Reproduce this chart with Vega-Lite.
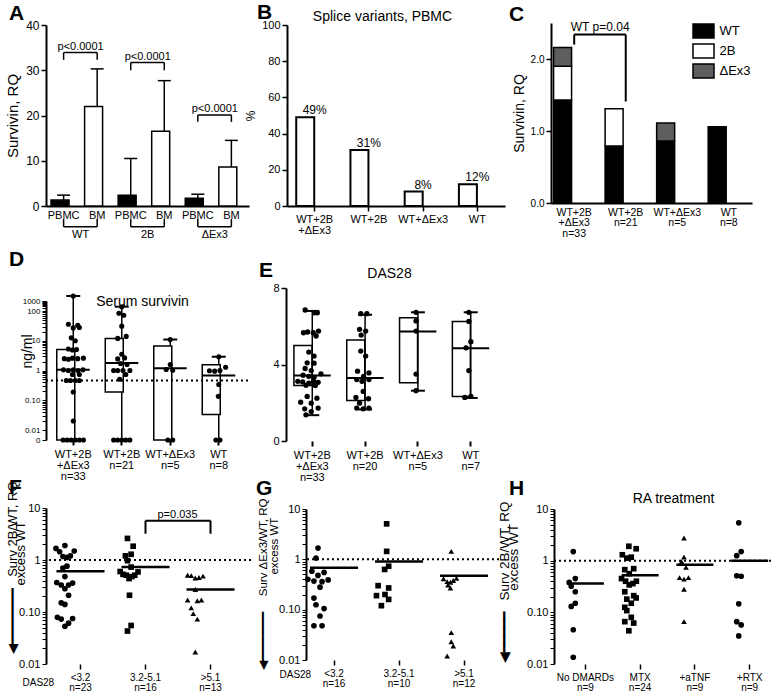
{
"$schema":"https://vega.github.io/schema/vega-lite/v6.json",
"background":"white",
"padding":{"left":5,"top":1,"right":0,"bottom":0},
"config":{
 "font":"Liberation Sans",
 "view":{"stroke":null},
 "axis":{"domainColor":"black","domainWidth":2,"tickColor":"black","tickWidth":1.5,"tickSize":5,"labelColor":"black","titleColor":"black","grid":false,"labelFontSize":11,"titleFontSize":13,"titleFontWeight":"normal","labelPadding":2,"labelLineHeight":11,"labelAngle":0},
 "title":{"fontSize":21,"fontWeight":"bold","anchor":"start","frame":"group","color":"black"},
 "legend":{"labelColor":"black"},
 "tick":{"opacity":1}
},
"resolve":{"scale":{"fill":"independent"},"legend":{"fill":"independent"}},
"datasets":{
 "A_bars":[{"k":"WP","t":"PBMC","m":1.3,"hi":2.4},{"k":"WB","t":"BM","m":22,"hi":30.3},{"k":"2P","t":"PBMC","m":2.4,"hi":10.5},{"k":"2B","t":"BM","m":16.5,"hi":27.7},{"k":"EP","t":"PBMC","m":1.7,"hi":2.6},{"k":"EB","t":"BM","m":8.6,"hi":14.5}],
 "A_p":[{"a":"WP","b":"WB","top":33.9,"end":32.3,"lab":"p<0.0001"},{"a":"2P","b":"2B","top":31.7,"end":30,"lab":"p<0.0001"},{"a":"EP","b":"EB","top":20.1,"end":18.6,"lab":"p<0.0001"}],
 "A_g":[{"a":"WP","b":"WB","g":"WT"},{"a":"2P","b":"2B","g":"2B"},{"a":"EP","b":"EB","g":"\u0394Ex3"}],
 "B":[{"k":"a","p":49,"lab":"49%"},{"k":"b","p":31,"lab":"31%"},{"k":"c","p":8,"lab":"8%"},{"k":"d","p":12,"lab":"12%"}],
 "C":[{"k":"a","s":"WT","o":1,"v":1.43},{"k":"a","s":"2B","o":2,"v":0.47},{"k":"a","s":"\u0394Ex3","o":3,"v":0.26},{"k":"b","s":"WT","o":1,"v":0.79},{"k":"b","s":"2B","o":2,"v":0.52},{"k":"c","s":"WT","o":1,"v":0.86},{"k":"c","s":"\u0394Ex3","o":3,"v":0.25},{"k":"d","s":"WT","o":1,"v":1.06}],
 "C_br":[{"a":"a","b":"b","top":2.34,"e1":2.2,"e2":1.41,"lab":"WT p=0.04"}],
 "D_box":[{"g":"a","lo":0.005,"q1":0.005,"med":1.05,"q3":5.1,"hi":3160},{"g":"b","lo":0.005,"q1":0.19,"med":1.8,"q3":12,"hi":270},{"g":"c","lo":0.005,"q1":0.005,"med":1.2,"q3":6.6,"hi":11},{"g":"d","lo":0.005,"q1":0.033,"med":0.68,"q3":1.55,"hi":2.9}],
 "D_pts":[
{"g":"a","v":3160,"j":0},{"g":"a","v":36,"j":-1.2},{"g":"a","v":33,"j":1.1},{"g":"a","v":27,"j":0},{"g":"a","v":28,"j":1.5},{"g":"a","v":12.5,"j":-0.5},{"g":"a","v":10,"j":0.5},{"g":"a","v":5.3,"j":-1.2},{"g":"a","v":5.1,"j":0.8},{"g":"a","v":4.9,"j":-0.2},{"g":"a","v":2.5,"j":-2.2},{"g":"a","v":2.4,"j":-1.2},{"g":"a","v":2.6,"j":-0.2},{"g":"a","v":2.5,"j":1.1},{"g":"a","v":2.6,"j":2.5},{"g":"a","v":1.05,"j":-2.4},{"g":"a","v":1.0,"j":-1.2},{"g":"a","v":1.05,"j":0},{"g":"a","v":1.0,"j":1.2},{"g":"a","v":1.05,"j":2.4},{"g":"a","v":0.73,"j":-0.2},{"g":"a","v":0.73,"j":1.5},{"g":"a","v":0.46,"j":-1.7},{"g":"a","v":0.46,"j":-0.7},{"g":"a","v":0.46,"j":0.5},{"g":"a","v":0.46,"j":1.5},{"g":"a","v":0.19,"j":0},{"g":"a","v":0.02,"j":0},{"g":"a","v":0.005,"j":-2.5},{"g":"a","v":0.005,"j":-1.5},{"g":"a","v":0.005,"j":-0.5},{"g":"a","v":0.005,"j":0.5},{"g":"a","v":0.005,"j":1.5},{"g":"a","v":0.005,"j":2.5},
{"g":"b","v":270,"j":0},{"g":"b","v":84,"j":-0.7},{"g":"b","v":72,"j":0.5},{"g":"b","v":31,"j":0},{"g":"b","v":12,"j":-1},{"g":"b","v":14,"j":1.1},{"g":"b","v":3.5,"j":0},{"g":"b","v":2.65,"j":0.7},{"g":"b","v":2.45,"j":-1},{"g":"b","v":1.72,"j":-0.3},{"g":"b","v":1.59,"j":1.3},{"g":"b","v":1.0,"j":-2},{"g":"b","v":1.0,"j":-1},{"g":"b","v":1.0,"j":0.3},{"g":"b","v":1.0,"j":2},{"g":"b","v":0.73,"j":1},{"g":"b","v":0.51,"j":-0.5},{"g":"b","v":0.005,"j":-2},{"g":"b","v":0.005,"j":-1},{"g":"b","v":0.005,"j":0},{"g":"b","v":0.005,"j":1},{"g":"b","v":0.005,"j":2},
{"g":"c","v":11,"j":0},{"g":"c","v":1.59,"j":0},{"g":"c","v":1.08,"j":-1},{"g":"c","v":1.02,"j":0.6},{"g":"c","v":0.005,"j":-0.6},{"g":"c","v":0.005,"j":0.6},
{"g":"d","v":2.9,"j":0},{"g":"d","v":1.29,"j":1.7},{"g":"d","v":0.98,"j":-2.3},{"g":"d","v":0.95,"j":-1},{"g":"d","v":1.0,"j":0.3},{"g":"d","v":0.34,"j":0},{"g":"d","v":0.135,"j":-0.1},{"g":"d","v":0.005,"j":-0.7},{"g":"d","v":0.005,"j":0.3}],
 "E_box":[{"g":"a","lo":1.35,"q1":2.9,"med":3.43,"q3":5.0,"hi":6.8},{"g":"b","lo":1.65,"q1":2.12,"med":3.3,"q3":5.28,"hi":6.6},{"g":"c","lo":2.63,"q1":3.05,"med":5.72,"q3":6.45,"hi":6.73},{"g":"d","lo":2.25,"q1":2.33,"med":4.85,"q3":6.25,"hi":6.73}],
 "E_pts":[
{"g":"a","v":6.85,"j":-1.3},{"g":"a","v":6.7,"j":1.0},{"g":"a","v":6.7,"j":1.7},{"g":"a","v":5.66,"j":-1.7},{"g":"a","v":5.7,"j":-0.7},{"g":"a","v":5.66,"j":0.7},{"g":"a","v":5.75,"j":2.0},{"g":"a","v":5.49,"j":1.4},{"g":"a","v":4.65,"j":-0.4},{"g":"a","v":4.44,"j":0.9},{"g":"a","v":4.09,"j":-0.8},{"g":"a","v":4.07,"j":0.9},{"g":"a","v":3.79,"j":-1.3},{"g":"a","v":3.68,"j":0.2},{"g":"a","v":3.44,"j":-1.8},{"g":"a","v":3.38,"j":-0.4},{"g":"a","v":3.33,"j":0.9},{"g":"a","v":3.51,"j":2.6},{"g":"a","v":3.12,"j":-3.1},{"g":"a","v":3.09,"j":-1.9},{"g":"a","v":3.03,"j":-0.4},{"g":"a","v":3.12,"j":0.8},{"g":"a","v":3.07,"j":1.9},{"g":"a","v":2.91,"j":-1.1},{"g":"a","v":2.9,"j":1.2},{"g":"a","v":2.33,"j":-0.8},{"g":"a","v":2.24,"j":1.6},{"g":"a","v":2.03,"j":-2.4},{"g":"a","v":1.98,"j":0.2},{"g":"a","v":1.68,"j":-1.4},{"g":"a","v":1.72,"j":1.9},{"g":"a","v":1.54,"j":0.2},{"g":"a","v":1.37,"j":-1.1},
{"g":"b","v":6.66,"j":-0.6},{"g":"b","v":6.66,"j":0.9},{"g":"b","v":5.84,"j":-0.9},{"g":"b","v":5.75,"j":0.6},{"g":"b","v":5.54,"j":-0.5},{"g":"b","v":4.7,"j":-0.6},{"g":"b","v":4.44,"j":0.6},{"g":"b","v":3.65,"j":-1.4},{"g":"b","v":3.56,"j":1.4},{"g":"b","v":3.38,"j":0.1},{"g":"b","v":3.21,"j":-1.6},{"g":"b","v":3.12,"j":-0.3},{"g":"b","v":3.21,"j":1.4},{"g":"b","v":2.59,"j":0},{"g":"b","v":2.28,"j":-1.8},{"g":"b","v":2.21,"j":1.3},{"g":"b","v":1.98,"j":-0.9},{"g":"b","v":1.72,"j":-1.6},{"g":"b","v":1.68,"j":0},{"g":"b","v":1.72,"j":1.4},
{"g":"c","v":6.73,"j":0},{"g":"c","v":6.28,"j":0},{"g":"c","v":5.75,"j":0},{"g":"c","v":3.5,"j":0},{"g":"c","v":2.63,"j":0},
{"g":"d","v":6.73,"j":0},{"g":"d","v":6.25,"j":0},{"g":"d","v":5.19,"j":0.5},{"g":"d","v":4.87,"j":-0.7},{"g":"d","v":3.68,"j":0},{"g":"d","v":2.28,"j":-1},{"g":"d","v":2.33,"j":0.5}],
 "F_pts":[
{"g":"a","v":1.67,"j":-2.1},{"g":"a","v":1.44,"j":-1.2},{"g":"a","v":1.9,"j":0.1},{"g":"a","v":1.17,"j":-0.4},{"g":"a","v":1.12,"j":0.6},{"g":"a","v":1.2,"j":1.45},{"g":"a","v":1.49,"j":2.4},{"g":"a","v":0.7,"j":-0.4},{"g":"a","v":0.76,"j":0.6},{"g":"a","v":0.48,"j":0.1},{"g":"a","v":0.37,"j":-1.9},{"g":"a","v":0.33,"j":-0.8},{"g":"a","v":0.28,"j":0.1},{"g":"a","v":0.33,"j":1.0},{"g":"a","v":0.36,"j":2.0},{"g":"a","v":0.21,"j":1.0},{"g":"a","v":0.15,"j":-0.8},{"g":"a","v":0.14,"j":0.1},{"g":"a","v":0.079,"j":-1.75},{"g":"a","v":0.073,"j":-0.8},{"g":"a","v":0.053,"j":0.1},{"g":"a","v":0.061,"j":1.0},{"g":"a","v":0.075,"j":2.0},
{"g":"b","v":2.6,"j":-0.5},{"g":"b","v":1.84,"j":0.9},{"g":"b","v":1.29,"j":0.4},{"g":"b","v":1.2,"j":-1.0},{"g":"b","v":0.97,"j":-0.5},{"g":"b","v":0.73,"j":0.4},{"g":"b","v":0.6,"j":-2.3},{"g":"b","v":0.53,"j":-1.6},{"g":"b","v":0.51,"j":-0.8},{"g":"b","v":0.44,"j":-0.1},{"g":"b","v":0.48,"j":0.6},{"g":"b","v":0.51,"j":1.3},{"g":"b","v":0.59,"j":2.1},{"g":"b","v":0.21,"j":0},{"g":"b","v":0.055,"j":0.4},{"g":"b","v":0.043,"j":-0.5},
{"g":"c","v":0.51,"j":-1.7},{"g":"c","v":0.5,"j":-0.8},{"g":"c","v":0.45,"j":0.2},{"g":"c","v":0.46,"j":1.1},{"g":"c","v":0.49,"j":2.1},{"g":"c","v":0.27,"j":0.2},{"g":"c","v":0.17,"j":-1.7},{"g":"c","v":0.165,"j":0.7},{"g":"c","v":0.17,"j":1.7},{"g":"c","v":0.12,"j":-0.8},{"g":"c","v":0.093,"j":-0.3},{"g":"c","v":0.073,"j":0.7},{"g":"c","v":0.017,"j":0.2}],
 "F_med":[{"g":"a","m":0.61},{"g":"b","m":0.73},{"g":"c","m":0.27}],
 "F_br":[{"a":"b","b":"c","top":5.7,"end":3.2,"lab":"p=0.035"}],
 "G_pts":[
{"g":"a","v":1.67,"j":0},{"g":"a","v":1.06,"j":-0.5},{"g":"a","v":0.58,"j":-1.5},{"g":"a","v":0.55,"j":1.5},{"g":"a","v":0.48,"j":0},{"g":"a","v":0.4,"j":-2.5},{"g":"a","v":0.37,"j":-1},{"g":"a","v":0.36,"j":1},{"g":"a","v":0.39,"j":2.5},{"g":"a","v":0.28,"j":0.5},{"g":"a","v":0.17,"j":-1},{"g":"a","v":0.125,"j":-0.5},{"g":"a","v":0.105,"j":1.5},{"g":"a","v":0.075,"j":0.5},{"g":"a","v":0.048,"j":-1},{"g":"a","v":0.048,"j":1},
{"g":"b","v":5.07,"j":0.9},{"g":"b","v":1.44,"j":0.9},{"g":"b","v":0.63,"j":0.4},{"g":"b","v":0.73,"j":1.4},{"g":"b","v":0.3,"j":-1.2},{"g":"b","v":0.27,"j":1.4},{"g":"b","v":0.19,"j":-1.6},{"g":"b","v":0.2,"j":0.5},{"g":"b","v":0.16,"j":1.4},{"g":"b","v":0.12,"j":-0.4},
{"g":"c","v":1.44,"j":0.8},{"g":"c","v":0.41,"j":-1.1},{"g":"c","v":0.36,"j":-0.2},{"g":"c","v":0.35,"j":0.6},{"g":"c","v":0.38,"j":1.3},{"g":"c","v":0.42,"j":2.1},{"g":"c","v":0.27,"j":0.6},{"g":"c","v":0.31,"j":0.0},{"g":"c","v":0.035,"j":0.8},{"g":"c","v":0.023,"j":0.8},{"g":"c","v":0.019,"j":1.3},{"g":"c","v":0.012,"j":-0.2}],
 "G_med":[{"g":"a","m":0.68},{"g":"b","m":0.91},{"g":"c","m":0.47}],
 "H_pts":[
{"g":"a","v":1.5,"j":-0.3},{"g":"a","v":0.38,"j":-1.3},{"g":"a","v":0.45,"j":0.2},{"g":"a","v":0.32,"j":-0.8},{"g":"a","v":0.25,"j":0.2},{"g":"a","v":0.13,"j":-0.8},{"g":"a","v":0.15,"j":0.2},{"g":"a","v":0.046,"j":-0.3},{"g":"a","v":0.0135,"j":-0.3},
{"g":"b","v":1.9,"j":-0.1},{"g":"b","v":1.7,"j":1.7},{"g":"b","v":1.3,"j":-1.7},{"g":"b","v":1.12,"j":-0.6},{"g":"b","v":1.17,"j":0.5},{"g":"b","v":0.67,"j":-1.1},{"g":"b","v":0.7,"j":1.1},{"g":"b","v":0.56,"j":0},{"g":"b","v":0.45,"j":-1.9},{"g":"b","v":0.4,"j":-0.9},{"g":"b","v":0.34,"j":0},{"g":"b","v":0.36,"j":0.9},{"g":"b","v":0.4,"j":1.75},{"g":"b","v":0.25,"j":-1.1},{"g":"b","v":0.18,"j":-0.6},{"g":"b","v":0.15,"j":0.5},{"g":"b","v":0.19,"j":1.7},{"g":"b","v":0.125,"j":-1.1},{"g":"b","v":0.108,"j":-0.6},{"g":"b","v":0.08,"j":0.5},{"g":"b","v":0.066,"j":-1.1},{"g":"b","v":0.062,"j":1.1},{"g":"b","v":0.044,"j":-0.1},{"g":"b","v":0.21,"j":1.1},
{"g":"c","v":2.75,"j":0},{"g":"c","v":1.17,"j":0},{"g":"c","v":0.96,"j":-0.6},{"g":"c","v":0.74,"j":0.5},{"g":"c","v":0.47,"j":-1.1},{"g":"c","v":0.44,"j":0},{"g":"c","v":0.47,"j":1.1},{"g":"c","v":0.28,"j":0},{"g":"c","v":0.066,"j":0},
{"g":"d","v":5.4,"j":0},{"g":"d","v":1.5,"j":0.6},{"g":"d","v":1.25,"j":-0.5},{"g":"d","v":0.51,"j":-0.5},{"g":"d","v":0.5,"j":0.6},{"g":"d","v":0.146,"j":0},{"g":"d","v":0.066,"j":-0.5},{"g":"d","v":0.057,"j":0.6},{"g":"d","v":0.035,"j":0}],
 "H_med":[{"g":"a","m":0.36},{"g":"b","m":0.52},{"g":"c","m":0.83},{"g":"d","m":1.0}]
},
"spacing":7,
"vconcat":[
 {"hconcat":[
  {"width":203,"height":183,
   "title":{"text":"A","dx":-37,"offset":-4.5},
   "layer":[
    {"data":{"name":"A_bars"},"mark":{"type":"bar","stroke":"black","strokeWidth":1.5},
     "encoding":{
      "x":{"field":"k","type":"nominal","scale":{"type":"band","domain":["WP","WB","2P","2B","EP","EB"],"range":[0,203],"paddingInner":0.25,"paddingOuter":0.15},"axis":{"title":null,"ticks":false,"labelExpr":"slice(datum.value,1) == 'P' ? 'PBMC' : 'BM'","labelFontSize":11,"labelPadding":3}},
      "y":{"field":"m","type":"quantitative","scale":{"domain":[0,40],"range":[183,2],"nice":false},"axis":{"values":[0,10,20,30,40],"title":"Survivin, RQ","titleFontSize":15,"labelFontSize":12,"titlePadding":5}},
      "fill":{"condition":{"test":"datum.t == 'PBMC'","value":"black"},"value":"white"}}},
    {"data":{"name":"A_bars"},"mark":{"type":"rule","strokeWidth":1.5,"color":"black"},
     "encoding":{"x":{"field":"k","type":"nominal"},"y":{"field":"m","type":"quantitative"},"y2":{"field":"hi"}}},
    {"data":{"name":"A_bars"},"mark":{"type":"tick","size":13,"thickness":1.5,"color":"black","opacity":1},
     "encoding":{"x":{"field":"k","type":"nominal"},"y":{"field":"hi","type":"quantitative"}}},
    {"data":{"name":"A_p"},"mark":{"type":"rule","strokeWidth":1.5,"color":"black"},
     "encoding":{"x":{"field":"a","type":"nominal"},"x2":{"field":"b"},"y":{"field":"top","type":"quantitative"}}},
    {"data":{"name":"A_p"},"mark":{"type":"rule","strokeWidth":1.5,"color":"black"},
     "encoding":{"x":{"field":"a","type":"nominal"},"y":{"field":"top","type":"quantitative"},"y2":{"field":"end"}}},
    {"data":{"name":"A_p"},"mark":{"type":"rule","strokeWidth":1.5,"color":"black"},
     "encoding":{"x":{"field":"b","type":"nominal"},"y":{"field":"top","type":"quantitative"},"y2":{"field":"end"}}},
    {"data":{"name":"A_p"},"mark":{"type":"text","dx":17,"dy":-1,"baseline":"bottom","fontSize":11,"color":"black"},
     "encoding":{"x":{"field":"a","type":"nominal"},"y":{"field":"top","type":"quantitative"},"text":{"field":"lab"}}},
    {"data":{"name":"A_g"},"mark":{"type":"rule","strokeWidth":1.5,"color":"black"},
     "encoding":{"x":{"field":"a","type":"nominal"},"x2":{"field":"b"},"y":{"datum":-4.6}}},
    {"data":{"name":"A_g"},"mark":{"type":"rule","strokeWidth":1.5,"color":"black"},
     "encoding":{"x":{"field":"a","type":"nominal"},"y":{"datum":-4.6},"y2":{"datum":-2.9}}},
    {"data":{"name":"A_g"},"mark":{"type":"rule","strokeWidth":1.5,"color":"black"},
     "encoding":{"x":{"field":"b","type":"nominal"},"y":{"datum":-4.6},"y2":{"datum":-2.9}}},
    {"data":{"name":"A_g"},"mark":{"type":"text","dx":17,"baseline":"middle","fontSize":11,"color":"black"},
     "encoding":{"x":{"field":"a","type":"nominal"},"y":{"datum":-6.5},"text":{"field":"g"}}}
   ]},
  {"width":226,"height":183,
   "title":{"text":"B","dx":-30,"offset":-13.5},
   "data":{"name":"B"},
   "encoding":{
    "x":{"field":"k","type":"nominal","scale":{"type":"band","domain":["a","b","c","d"],"range":[0,218],"paddingInner":0.32,"paddingOuter":0.17},"axis":{"title":"Splice variants, PBMC","titleX":95,"titleY":-197,"titleAlign":"center","titleBaseline":"top","titleFontSize":14,"tickSize":5,"labelExpr":"{'a':['WT+2B','+\u0394Ex3'],'b':'WT+2B','c':'WT+\u0394Ex3','d':'WT'}[datum.value]","labelFontSize":11}},
    "y":{"field":"p","type":"quantitative","scale":{"domain":[0,100],"range":[183,2],"nice":false},"axis":{"values":[0,20,40,60,80,100],"title":"%","labelFontSize":11,"titleFontSize":12}}},
   "layer":[
    {"mark":{"type":"bar","fill":"white","stroke":"black","strokeWidth":2}},
    {"mark":{"type":"text","dy":-7,"fontSize":12,"color":"black"},"encoding":{"text":{"field":"lab"}}}
   ]},
  {"width":205,"height":180,
   "title":{"text":"C","dx":-42,"offset":-4.5},
   "layer":[
    {"data":{"name":"C"},"mark":{"type":"bar","stroke":"black","strokeWidth":1.5},
     "encoding":{
      "x":{"field":"k","type":"nominal","scale":{"type":"band","domain":["a","b","c","d"],"range":[0,201],"paddingInner":0.2,"paddingOuter":0.05},"axis":{"title":null,"ticks":false,"labelExpr":"{'a':['WT+2B','+\u0394Ex3','n=33'],'b':['WT+2B','n=21'],'c':['WT+\u0394Ex3','n=5'],'d':['WT','n=8']}[datum.value]","labelFontSize":10.5,"labelLineHeight":10.5,"labelPadding":4}},
      "y":{"field":"v","type":"quantitative","stack":"zero","scale":{"domain":[0,2.5],"nice":false},"axis":{"values":[0,0.5,1,1.5,2,2.5],"format":".1f","labelFontSize":10,"title":"Survivin, RQ","titleFontSize":14}},
      "fill":{"field":"s","type":"nominal","scale":{"domain":["WT","2B","\u0394Ex3"],"range":["black","white","#5e5e5e"]},
       "legend":{"title":null,"orient":"none","legendX":144.5,"legendY":0,"symbolType":"M-1.5,-1L1.5,-1L1.5,1L-1.5,1Z","symbolSize":196,"symbolStrokeColor":"black","symbolStrokeWidth":1.5,"symbolOpacity":1,"labelFontSize":13,"rowPadding":0,"labelOffset":8,"padding":0}},
      "order":{"field":"o","type":"quantitative"}}},
    {"data":{"name":"C_br"},"mark":{"type":"rule","strokeWidth":2,"color":"black"},
     "encoding":{"x":{"field":"a","type":"nominal"},"x2":{"field":"b"},"y":{"field":"top","type":"quantitative"}}},
    {"data":{"name":"C_br"},"mark":{"type":"rule","strokeWidth":2,"color":"black"},
     "encoding":{"x":{"field":"a","type":"nominal"},"y":{"field":"top","type":"quantitative"},"y2":{"field":"e1"}}},
    {"data":{"name":"C_br"},"mark":{"type":"rule","strokeWidth":2,"color":"black"},
     "encoding":{"x":{"field":"b","type":"nominal"},"y":{"field":"top","type":"quantitative"},"y2":{"field":"e2"}}},
    {"data":{"name":"C_br"},"mark":{"type":"text","dx":26,"dy":-1,"baseline":"bottom","fontSize":12,"color":"black"},
     "encoding":{"x":{"field":"a","type":"nominal"},"y":{"field":"top","type":"quantitative"},"text":{"field":"lab"}}}
   ]}
 ],"spacing":38,"bounds":"flush","resolve":{"scale":{"fill":"independent"},"legend":{"fill":"independent"}}},
 {"spacing":-6,"vconcat":[
  {"hconcat":[
   {"width":202,"height":152,
    "title":{"text":"D","dx":-37,"offset":18.5},
    "layer":[
     {"data":{"name":"D_box"},"mark":{"type":"rule","strokeWidth":1.5,"color":"black"},
      "encoding":{
       "x":{"field":"g","type":"nominal","scale":{"type":"band","domain":["a","b","c","d"],"range":[3,197],"paddingInner":0.32,"paddingOuter":0.16},"axis":{"title":"Serum survivin","titleX":96,"titleY":-146,"titleAlign":"center","titleBaseline":"top","titleFontSize":14,"domain":false,"tickSize":5,"tickWidth":2,"labelExpr":"{'a':['WT+2B','+\u0394Ex3','n=33'],'b':['WT+2B','n=21'],'c':['WT+\u0394Ex3','n=5'],'d':['WT','n=8']}[datum.value]","labelFontSize":11,"labelLineHeight":11,"labelPadding":3}},
       "y":{"field":"lo","type":"quantitative","scale":{"type":"log","domain":[0.005,0.01,100,1000],"range":[152,142,23,13],"nice":false},"axis":{"values":[0.005,0.01,0.02,0.03,0.04,0.05,0.06,0.07,0.08,0.09,0.1,0.2,0.3,0.4,0.5,0.6,0.7,0.8,0.9,1,2,3,4,5,6,7,8,9,10,20,30,40,50,60,70,80,90,100,200,300,400,500,600,700,800,900,1000],"labelExpr":"datum.value == 0.005 ? '0' : datum.value == 0.01 ? '0.01' : datum.value == 0.1 ? '0.10' : datum.value == 1 ? '1' : datum.value == 10 ? '10' : datum.value == 100 ? '100' : datum.value == 1000 ? '1000' : ''","labelFontSize":8,"tickSize":4,"tickWidth":1,"labelOverlap":false,"title":"ng/ml","titleFontSize":14,"titleX":-12,"titleY":63}},
       "y2":{"field":"hi"}}},
     {"data":{"name":"D_box"},"mark":{"type":"bar","fill":"white","stroke":"black","strokeWidth":1.5},
      "encoding":{"x":{"field":"g","type":"nominal"},"y":{"field":"q1","type":"quantitative"},"y2":{"field":"q3"}}},
     {"data":{"name":"D_box"},"mark":{"type":"tick","size":33,"thickness":2,"color":"black","opacity":1},
      "encoding":{"x":{"field":"g","type":"nominal"},"y":{"field":"med","type":"quantitative"}}},
     {"data":{"name":"D_box"},"mark":{"type":"tick","size":14,"thickness":2,"color":"black","opacity":1},
      "encoding":{"x":{"field":"g","type":"nominal"},"y":{"field":"hi","type":"quantitative"}}},
     {"data":{"name":"D_pts"},"mark":{"type":"point","filled":true,"color":"black","size":26,"opacity":1},
      "encoding":{"x":{"field":"g","type":"nominal"},"xOffset":{"field":"j","type":"quantitative","scale":{"domain":[-3.3,3.3]}},"y":{"field":"v","type":"quantitative"}}},
     {"data":{"values":[{}]},"mark":{"type":"rule","strokeDash":[2,3],"strokeWidth":2,"color":"black"},
      "encoding":{"y":{"datum":0.46}}}
    ]},
   {"width":211,"height":153,
    "title":{"text":"E","dx":-27,"offset":-14.5},
    "layer":[
     {"data":{"name":"E_box"},"mark":{"type":"rule","strokeWidth":1.5,"color":"black"},
      "encoding":{
       "x":{"field":"g","type":"nominal","scale":{"type":"band","domain":["a","b","c","d"],"range":[0,211],"paddingInner":0.305,"paddingOuter":0.15},"axis":{"title":"DAS28","titleX":103,"titleY":-175,"titleAlign":"center","titleBaseline":"top","titleFontSize":14,"domain":false,"tickSize":5,"tickWidth":2,"labelExpr":"{'a':['WT+2B','+\u0394Ex3','n=33'],'b':['WT+2B','n=20'],'c':['WT+\u0394Ex3','n=5'],'d':['WT','n=7']}[datum.value]","labelFontSize":11,"labelLineHeight":11,"labelPadding":3}},
       "y":{"field":"lo","type":"quantitative","scale":{"domain":[0,8],"nice":false},"axis":{"values":[0,2,4,6,8],"title":null,"labelFontSize":11}},
       "y2":{"field":"hi"}}},
     {"data":{"name":"E_box"},"mark":{"type":"bar","fill":"white","stroke":"black","strokeWidth":1.5},
      "encoding":{"x":{"field":"g","type":"nominal"},"y":{"field":"q1","type":"quantitative"},"y2":{"field":"q3"}}},
     {"data":{"name":"E_box"},"mark":{"type":"tick","size":37,"thickness":2,"color":"black","opacity":1},
      "encoding":{"x":{"field":"g","type":"nominal"},"y":{"field":"med","type":"quantitative"}}},
     {"data":{"name":"E_box"},"mark":{"type":"tick","size":14,"thickness":2,"color":"black","opacity":1},
      "encoding":{"x":{"field":"g","type":"nominal"},"y":{"field":"hi","type":"quantitative"}}},
     {"data":{"name":"E_box"},"mark":{"type":"tick","size":14,"thickness":2,"color":"black","opacity":1},
      "encoding":{"x":{"field":"g","type":"nominal"},"y":{"field":"lo","type":"quantitative"}}},
     {"data":{"name":"E_pts"},"mark":{"type":"point","filled":true,"color":"black","size":28,"opacity":1},
      "encoding":{"x":{"field":"g","type":"nominal"},"xOffset":{"field":"j","type":"quantitative","scale":{"domain":[-3.67,3.67]}},"y":{"field":"v","type":"quantitative"}}}
    ]}
  ],"spacing":38,"bounds":"flush"},
  {"hconcat":[
   {"width":205,"height":162,
    "title":{"text":"F","dx":-37,"offset":-16.5},
    "layer":[
     {"data":{"values":[{}]},"mark":{"type":"rule","strokeDash":[2,3],"strokeWidth":2,"color":"black"},
      "encoding":{"y":{"datum":1,"type":"quantitative","scale":{"type":"log","domain":[0.01,10],"range":[162,6],"nice":false}}}},
     {"data":{"name":"F_pts"},"mark":{"type":"point","filled":true,"color":"black","size":32,"opacity":1},
      "encoding":{
       "x":{"field":"g","type":"nominal","scale":{"type":"band","domain":["a","b","c"],"range":[2,197],"paddingInner":0,"paddingOuter":0},"axis":{"title":"DAS28","titleAnchor":"start","titleAlign":"left","titleX":-24,"titleY":13,"titleBaseline":"top","titleFontSize":10,"domain":false,"tickSize":5,"tickWidth":1.5,"labelExpr":"{'a':['<3.2','n=23'],'b':['3.2-5.1','n=16'],'c':['>5.1','n=13']}[datum.value]","labelFontSize":10,"labelLineHeight":10,"labelPadding":3}},
       "xOffset":{"field":"j","type":"quantitative","scale":{"domain":[-4.06,4.06]}},
       "y":{"field":"v","type":"quantitative","axis":{"values":[0.01,0.02,0.03,0.04,0.05,0.06,0.07,0.08,0.09,0.1,0.2,0.3,0.4,0.5,0.6,0.7,0.8,0.9,1,2,3,4,5,6,7,8,9,10],"labelExpr":"datum.value == 0.01 ? '0.01' : datum.value == 0.1 ? '0.10' : datum.value == 1 ? '1' : datum.value == 10 ? '10' : ''","labelFontSize":11,"tickSize":4,"tickWidth":1,"labelOverlap":false,"title":["\u25c0\u2501\u2501\u2501\u2501\u2501\u2501\u2501\u00a0\u00a0\u00a0Surv 2B/WT, RQ","excess WT\u00a0\u00a0\u00a0\u00a0\u00a0\u00a0\u00a0\u00a0\u00a0\u00a0\u00a0\u200b"],"titleFontSize":13,"titleLineHeight":8,"titleAnchor":"end","titleAlign":"right","titleX":-27,"titleY":-21}},
       "shape":{"field":"g","type":"nominal","scale":{"domain":["a","b","c"],"range":["circle","square","triangle-up"]},"legend":null}}},
     {"data":{"name":"F_med"},"mark":{"type":"tick","size":48,"thickness":2.5,"color":"black","opacity":1},
      "encoding":{"x":{"field":"g","type":"nominal"},"y":{"field":"m","type":"quantitative"}}},
     {"data":{"name":"F_br"},"mark":{"type":"rule","strokeWidth":2,"color":"black"},
      "encoding":{"x":{"field":"a","type":"nominal"},"x2":{"field":"b"},"y":{"field":"top","type":"quantitative"}}},
     {"data":{"name":"F_br"},"mark":{"type":"rule","strokeWidth":2,"color":"black"},
      "encoding":{"x":{"field":"a","type":"nominal"},"y":{"field":"top","type":"quantitative"},"y2":{"field":"end"}}},
     {"data":{"name":"F_br"},"mark":{"type":"rule","strokeWidth":2,"color":"black"},
      "encoding":{"x":{"field":"b","type":"nominal"},"y":{"field":"top","type":"quantitative"},"y2":{"field":"end"}}},
     {"data":{"name":"F_br"},"mark":{"type":"text","dx":32,"dy":-1,"baseline":"bottom","fontSize":11,"color":"black"},
      "encoding":{"x":{"field":"a","type":"nominal"},"y":{"field":"top","type":"quantitative"},"text":{"field":"lab"}}}
    ]},
   {"width":193,"height":158,
    "title":{"text":"G","dx":-50,"offset":-0.5},
    "layer":[
     {"data":{"values":[{}]},"mark":{"type":"rule","strokeDash":[2,3],"strokeWidth":2,"color":"black"},
      "encoding":{"y":{"datum":1,"type":"quantitative","scale":{"type":"log","domain":[0.01,10],"range":[158,7],"nice":false}}}},
     {"data":{"name":"G_pts"},"mark":{"type":"point","filled":true,"color":"black","size":32,"opacity":1},
      "encoding":{
       "x":{"field":"g","type":"nominal","scale":{"type":"band","domain":["a","b","c"],"range":[-4.5,190.5],"paddingInner":0,"paddingOuter":0},"axis":{"title":"DAS28","titleAnchor":"start","titleAlign":"left","titleX":-27,"titleY":9,"titleBaseline":"top","titleFontSize":10,"domain":false,"tickSize":5,"tickWidth":1.5,"labelExpr":"{'a':['<3.2','n=16'],'b':['3.2-5.1','n=10'],'c':['>5.1','n=12']}[datum.value]","labelFontSize":10,"labelLineHeight":10,"labelPadding":3}},
       "xOffset":{"field":"j","type":"quantitative","scale":{"domain":[-4.06,4.06]}},
       "y":{"field":"v","type":"quantitative","axis":{"values":[0.01,0.02,0.03,0.04,0.05,0.06,0.07,0.08,0.09,0.1,0.2,0.3,0.4,0.5,0.6,0.7,0.8,0.9,1,2,3,4,5,6,7,8,9,10],"labelExpr":"datum.value == 0.01 ? '0.01' : datum.value == 0.1 ? '0.10' : datum.value == 1 ? '1' : datum.value == 10 ? '10' : ''","labelFontSize":11,"tickSize":4,"tickWidth":1,"labelOverlap":false,"title":["\u25c0\u2501\u2501\u2501\u2501\u2501\u2501\u2501\u00a0\u00a0\u00a0\u00a0\u00a0Surv \u0394Ex3/WT, RQ","excess WT\u00a0\u00a0\u00a0\u00a0\u00a0\u00a0\u200b"],"titleFontSize":11.5,"titleLineHeight":11,"titleAnchor":"end","titleAlign":"right","titleX":-38,"titleY":-4}},
       "shape":{"field":"g","type":"nominal","scale":{"domain":["a","b","c"],"range":["circle","square","triangle-up"]},"legend":null}}},
     {"data":{"name":"G_med"},"mark":{"type":"tick","size":48,"thickness":2.5,"color":"black","opacity":1},
      "encoding":{"x":{"field":"g","type":"nominal"},"y":{"field":"m","type":"quantitative"}}}
    ]},
   {"width":222,"height":162,
    "title":{"text":"H","dx":-45,"offset":-7.5},
    "layer":[
     {"data":{"values":[{}]},"mark":{"type":"rule","strokeDash":[2,3],"strokeWidth":2,"color":"black"},
      "encoding":{"y":{"datum":1,"type":"quantitative","scale":{"type":"log","domain":[0.01,10],"range":[162,7],"nice":false}}}},
     {"data":{"name":"H_pts"},"mark":{"type":"point","filled":true,"color":"black","size":32,"opacity":1},
      "encoding":{
       "x":{"field":"g","type":"nominal","scale":{"type":"band","domain":["a","b","c","d"],"range":[4,223],"paddingInner":0,"paddingOuter":0},"axis":{"title":"RA treatment","titleX":119,"titleY":-173,"titleAlign":"center","titleBaseline":"top","titleFontSize":14,"domain":false,"tickSize":5,"tickWidth":1.5,"labelExpr":"{'a':['No DMARDs','n=9'],'b':['MTX','n=24'],'c':['+aTNF','n=9'],'d':['+RTX','n=9']}[datum.value]","labelFontSize":10,"labelLineHeight":10,"labelPadding":3}},
       "xOffset":{"field":"j","type":"quantitative","scale":{"domain":[-3.42,3.42]}},
       "y":{"field":"v","type":"quantitative","axis":{"values":[0.01,0.02,0.03,0.04,0.05,0.06,0.07,0.08,0.09,0.1,0.2,0.3,0.4,0.5,0.6,0.7,0.8,0.9,1,2,3,4,5,6,7,8,9,10],"labelExpr":"datum.value == 0.01 ? '0.01' : datum.value == 0.1 ? '0.10' : datum.value == 1 ? '1' : datum.value == 10 ? '10' : ''","labelFontSize":11,"tickSize":4,"tickWidth":1,"labelOverlap":false,"title":["\u25c0\u2501\u2501\u2501\u2501\u2501\u00a0\u00a0\u00a0Surv 2B/WT, RQ","excess WT\u00a0\u00a0\u00a0\u00a0\u00a0\u00a0\u200b"],"titleFontSize":13.5,"titleLineHeight":9,"titleAnchor":"end","titleAlign":"right","titleX":-43,"titleY":-1}},
       "shape":{"field":"g","type":"nominal","scale":{"domain":["a","b","c","d"],"range":["circle","square","triangle-up","triangle-down"]},"legend":null}}},
     {"data":{"name":"H_med"},"mark":{"type":"tick","size":37,"thickness":2.5,"color":"black","opacity":1},
      "encoding":{"x":{"field":"g","type":"nominal"},"y":{"field":"m","type":"quantitative"}}}
    ]}
  ],"spacing":55,"bounds":"flush"}
 ]}
]
}
